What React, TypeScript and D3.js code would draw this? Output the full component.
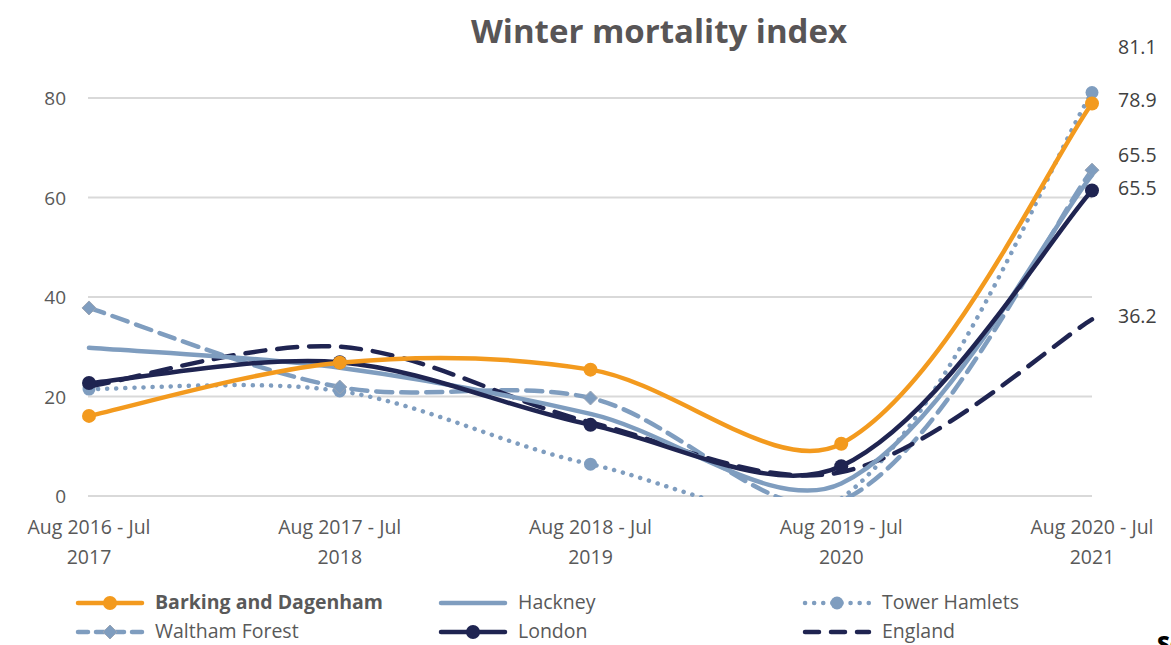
import * as d3 from "d3";

// chart values
const periods = [
  ["Aug 2016 - Jul", "2017"],
  ["Aug 2017 - Jul", "2018"],
  ["Aug 2018 - Jul", "2019"],
  ["Aug 2019 - Jul", "2020"],
  ["Aug 2020 - Jul", "2021"],
];
const barking = [16.1, 26.8, 25.4, 10.5, 78.9];
const hackney = [29.8, 25.8, 16.5, 2.5, 64.5];
const towerHamlets = [21.5, 21.1, 6.4, -0.5, 81.1];
const walthamForest = [37.8, 21.9, 19.7, -1, 65.5];
const london = [22.7, 26.9, 14.3, 6.0, 61.4];
const england = [22.0, 30.0, 14.8, 4.8, 35.5];
const yTicks = [0, 20, 40, 60, 80];
const endLabels = ["81.1", "78.9", "65.5", "65.5", "36.2"];

const ORANGE = "#F39A1E";
const LIGHT = "#7F9DBF";
const NAVY = "#1F2451";

type Series = {
  name: string;
  values: number[];
  color: string;
  dash?: string;
  marker?: "circle" | "diamond";
  bold?: boolean;
};

const series: Series[] = [
  { name: "Tower Hamlets", values: towerHamlets, color: LIGHT, dash: "0.1 9", marker: "circle" },
  { name: "Waltham Forest", values: walthamForest, color: LIGHT, dash: "16 9", marker: "diamond" },
  { name: "England", values: england, color: NAVY, dash: "20 12" },
  { name: "Hackney", values: hackney, color: LIGHT },
  { name: "London", values: london, color: NAVY, marker: "circle" },
  { name: "Barking and Dagenham", values: barking, color: ORANGE, marker: "circle", bold: true },
];

const legendOrder = ["Barking and Dagenham", "Hackney", "Tower Hamlets", "Waltham Forest", "London", "England"];

const W = 1171;
const H = 645;
const font = "'Open Sans', sans-serif";

// excel-like smoothing: catmull-rom tangents weighted by segment length
function smooth(pts: [number, number][]) {
  const p = d3.path();
  const dist = (a: number[], b: number[]) => Math.hypot(b[0] - a[0], b[1] - a[1]);
  p.moveTo(pts[0][0], pts[0][1]);
  for (let i = 0; i < pts.length - 1; i++) {
    const p0 = pts[i - 1] ?? pts[i];
    const p1 = pts[i];
    const p2 = pts[i + 1];
    const p3 = pts[i + 2] ?? pts[i + 1];
    const d01 = dist(p0, p1), d12 = dist(p1, p2), d23 = dist(p2, p3);
    const f1 = d01 === 0 ? 0.5 : d12 / (d01 + d12);
    const f2 = d23 === 0 ? 0.5 : d12 / (d12 + d23);
    p.bezierCurveTo(
      p1[0] + ((p2[0] - p0[0]) * f1) / 3,
      p1[1] + ((p2[1] - p0[1]) * f1) / 3,
      p2[0] - ((p3[0] - p1[0]) * f2) / 3,
      p2[1] - ((p3[1] - p1[1]) * f2) / 3,
      p2[0],
      p2[1]
    );
  }
  return p.toString();
}

export default function App() {
  const x = d3.scalePoint<number>().domain(d3.range(periods.length)).range([89, 1092]);
  const y = d3.scaleLinear().domain([0, 80]).range([496, 98]);

  // label positions (px) for the end values on the right
  const labelY = [47, 100, 155, 188, 316];

  const marker = (s: Series, cx: number, cy: number, key: string) => {
    if (!s.marker) return null;
    if (s.marker === "diamond")
      return (
        <path key={key} d={`M${cx},${cy - 7}L${cx + 7},${cy}L${cx},${cy + 7}L${cx - 7},${cy}Z`} fill={s.color} stroke="#9aa5b5" strokeWidth={1} />
      );
    return <circle key={key} cx={cx} cy={cy} r={s.name === "Tower Hamlets" ? 6.5 : 7} fill={s.color} />;
  };

  return (
    <svg width={W} height={H} style={{ position: "absolute", left: 0, top: 0, background: "#fff" }}>
      <defs>
        <clipPath id="plot">
          <rect x={0} y={0} width={W} height={497} />
        </clipPath>
      </defs>
      <text x={659} y={43} textAnchor="middle" fontFamily={font} fontWeight={700} fontSize={33} fill="#585556">
        Winter mortality index
      </text>

      {yTicks.map((t) => (
        <g key={t}>
          <line x1={88} x2={1092} y1={y(t)} y2={y(t)} stroke="#d9d9d9" strokeWidth={2} />
          <text x={66} y={y(t) + 7} textAnchor="end" fontFamily={font} fontSize={19} fill="#595959">
            {t}
          </text>
        </g>
      ))}

      {periods.map((p, i) => (
        <text key={i} x={x(i)} textAnchor="middle" fontFamily={font} fontSize={19.5} fill="#595959">
          <tspan x={x(i)} y={534}>{p[0]}</tspan>
          <tspan x={x(i)} y={564}>{p[1]}</tspan>
        </text>
      ))}

      <g clipPath="url(#plot)">
        {series.map((s) => (
          <g key={s.name}>
            <path
              d={smooth(s.values.map((v, i) => [x(i)!, y(v)]))}
              fill="none"
              stroke={s.color}
              strokeWidth={4.5}
              strokeDasharray={s.dash}
              strokeLinecap="round"
            />
            {s.values.map((v, i) => (v >= 0 ? marker(s, x(i)!, y(v), `${s.name}${i}`) : null))}
          </g>
        ))}
      </g>

      {endLabels.map((l, i) => (
        <text key={i} x={1118} y={labelY[i] + 7} fontFamily={font} fontSize={19.5} fill="#404040">
          {l}
        </text>
      ))}

      {legendOrder.map((name, i) => {
        const s = series.find((d) => d.name === name)!;
        const col = i % 3;
        const row = Math.floor(i / 3);
        const x0 = [78, 441, 805][col];
        const cy = 603 + row * 29;
        return (
          <g key={name}>
            <line
              x1={x0}
              x2={x0 + 64}
              y1={cy}
              y2={cy}
              stroke={s.color}
              strokeWidth={4.5}
              strokeDasharray={s.name === "England" ? "14 12" : s.dash === "16 9" ? "10 8" : s.dash}
              strokeLinecap="round"
            />
            {marker(s, x0 + 32, cy, name + "leg")}
            <text x={x0 + 77} y={cy + 6} fontFamily={font} fontSize={19.5} fontWeight={s.bold ? 700 : 400} fill="#595959">
              {name}
            </text>
          </g>
        );
      })}

      <text x={1157} y={652} fontFamily={font} fontWeight={800} fontSize={22} fill="#000">
        Source
      </text>
    </svg>
  );
}
